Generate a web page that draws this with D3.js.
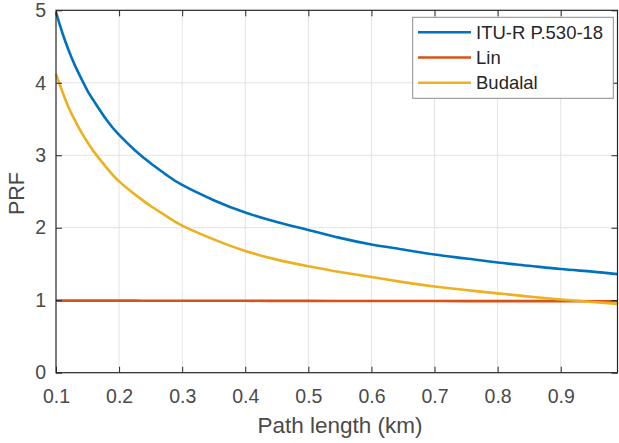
<!DOCTYPE html>
<html>
<head>
<meta charset="utf-8">
<script src="https://cdn.jsdelivr.net/npm/d3@7"></script>
<style>
  html, body { margin: 0; padding: 0; background: #fff; }
  svg { display: block; font-family: "Liberation Sans", Arial, Helvetica, sans-serif; }
</style>
</head>
<body>
<svg id="chart" width="619" height="443"></svg>
<script>
// ---- data ----
const pathLength = [0.10, 0.11, 0.12, 0.13, 0.14, 0.15, 0.16, 0.18, 0.20, 0.225, 0.25, 0.275, 0.30, 0.35, 0.40, 0.45, 0.50, 0.55, 0.60, 0.65, 0.70, 0.75, 0.80, 0.85, 0.90, 0.95, 0.99];
const ituR = [4.97, 4.69, 4.45, 4.24, 4.06, 3.89, 3.75, 3.49, 3.28, 3.07, 2.89, 2.73, 2.59, 2.38, 2.21, 2.08, 1.97, 1.86, 1.77, 1.70, 1.63, 1.575, 1.52, 1.475, 1.43, 1.395, 1.36];
const lin = [0.995, 0.995, 0.995, 0.995, 0.995, 0.995, 0.995, 0.994, 0.994, 0.994, 0.993, 0.993, 0.993, 0.992, 0.992, 0.991, 0.991, 0.990, 0.990, 0.989, 0.989, 0.988, 0.988, 0.987, 0.987, 0.986, 0.985];
const budalal = [4.12, 3.88, 3.66, 3.48, 3.32, 3.18, 3.05, 2.83, 2.64, 2.46, 2.30, 2.16, 2.03, 1.84, 1.68, 1.56, 1.47, 1.39, 1.32, 1.25, 1.19, 1.14, 1.095, 1.05, 1.01, 0.975, 0.95];
const seriesNames = ["ITU-R P.530-18", "Lin", "Budalal"];
const seriesColors = ["#0072BD", "#D95319", "#EDB120"];
const xTicks = [0.1, 0.2, 0.3, 0.4, 0.5, 0.6, 0.7, 0.8, 0.9];
const yTicks = [0, 1, 2, 3, 4, 5];
const xLabel = "Path length (km)";
const yLabel = "PRF";

// ---- layout ----
const svg = d3.select("#chart");
const pL = 56, pR = 617.5, pT = 10.3, pB = 372.7;
const x = d3.scaleLinear().domain([0.1, 0.99]).range([pL, pR]);
const y = d3.scaleLinear().domain([0, 5]).range([pB, pT]);
const axisColor = "#262626";
const textColor = "#4a4a4a";

// grid
const grid = svg.append("g");
grid.selectAll("line.gx").data(xTicks.slice(1)).enter().append("line")
  .attr("x1", d => x(d)).attr("x2", d => x(d))
  .attr("y1", pT).attr("y2", pB)
  .attr("stroke", "#e3e3e3").attr("stroke-width", 1);
grid.selectAll("line.gy").data(yTicks.slice(1, -1)).enter().append("line")
  .attr("x1", pL).attr("x2", pR)
  .attr("y1", d => y(d)).attr("y2", d => y(d))
  .attr("stroke", "#e3e3e3").attr("stroke-width", 1);

// series
const series = [ituR, lin, budalal];
const line = d3.line()
  .x((d, i) => x(pathLength[i]))
  .y(d => y(d))
  .curve(d3.curveNatural);
series.forEach((vals, k) => {
  svg.append("path")
    .datum(vals)
    .attr("d", line)
    .attr("fill", "none")
    .attr("stroke", seriesColors[k])
    .attr("stroke-width", 2.6)
    .attr("stroke-linejoin", "round");
});

// axes (ticks inward)
const tickLen = 6;
const xAxisB = d3.axisBottom(x).tickValues(xTicks).tickSizeInner(-tickLen).tickSizeOuter(0).tickPadding(16).tickFormat(d3.format(".1f"));
const xAxisT = d3.axisTop(x).tickValues(xTicks).tickSizeInner(-tickLen).tickSizeOuter(0).tickFormat("");
const yAxisL = d3.axisLeft(y).tickValues(yTicks).tickSizeInner(-tickLen).tickSizeOuter(0).tickPadding(10).tickFormat(d3.format("d"));
const yAxisR = d3.axisRight(y).tickValues(yTicks).tickSizeInner(-tickLen).tickSizeOuter(0).tickFormat("");

function style(g) {
  g.select(".domain").remove();
  g.selectAll(".tick line").attr("stroke", axisColor).attr("stroke-width", 1);
  g.selectAll(".tick text").attr("fill", textColor).attr("font-size", "19.5px")
    .attr("font-family", "'Liberation Sans', Arial, sans-serif");
}
svg.append("g").attr("transform", `translate(0,${pB})`).call(xAxisB).call(style);
svg.append("g").attr("transform", `translate(0,${pT})`).call(xAxisT).call(style);
svg.append("g").attr("transform", `translate(${pL},0)`).call(yAxisL).call(style);
svg.append("g").attr("transform", `translate(${pR},0)`).call(yAxisR).call(style);

// box
svg.append("rect")
  .attr("x", pL).attr("y", pT)
  .attr("width", pR - pL).attr("height", pB - pT)
  .attr("fill", "none").attr("stroke", axisColor).attr("stroke-width", 1.2);

// axis labels
svg.append("text")
  .attr("x", 340).attr("y", 433)
  .attr("text-anchor", "middle")
  .attr("fill", textColor).attr("font-size", "22.5px")
  .text(xLabel);
svg.append("text")
  .attr("transform", `translate(24,${(pT + pB) / 2 + 2}) rotate(-90)`)
  .attr("text-anchor", "middle")
  .attr("fill", textColor).attr("font-size", "21.5px")
  .text(yLabel);

// legend
const lg = svg.append("g");
lg.append("rect")
  .attr("x", 412.7).attr("y", 17.3).attr("width", 200.6).attr("height", 81)
  .attr("fill", "#fff").attr("stroke", "#8c8c8c").attr("stroke-width", 1);
const rowY = [32.3, 57.5, 82.7];
seriesNames.forEach((name, k) => {
  lg.append("line")
    .attr("x1", 418).attr("x2", 471)
    .attr("y1", rowY[k]).attr("y2", rowY[k])
    .attr("stroke", seriesColors[k]).attr("stroke-width", 2.6);
  lg.append("text")
    .attr("x", 476).attr("y", rowY[k])
    .attr("dy", "0.35em")
    .attr("fill", "#262626").attr("font-size", "18.5px")
    .text(name);
});
</script>
</body>
</html>
